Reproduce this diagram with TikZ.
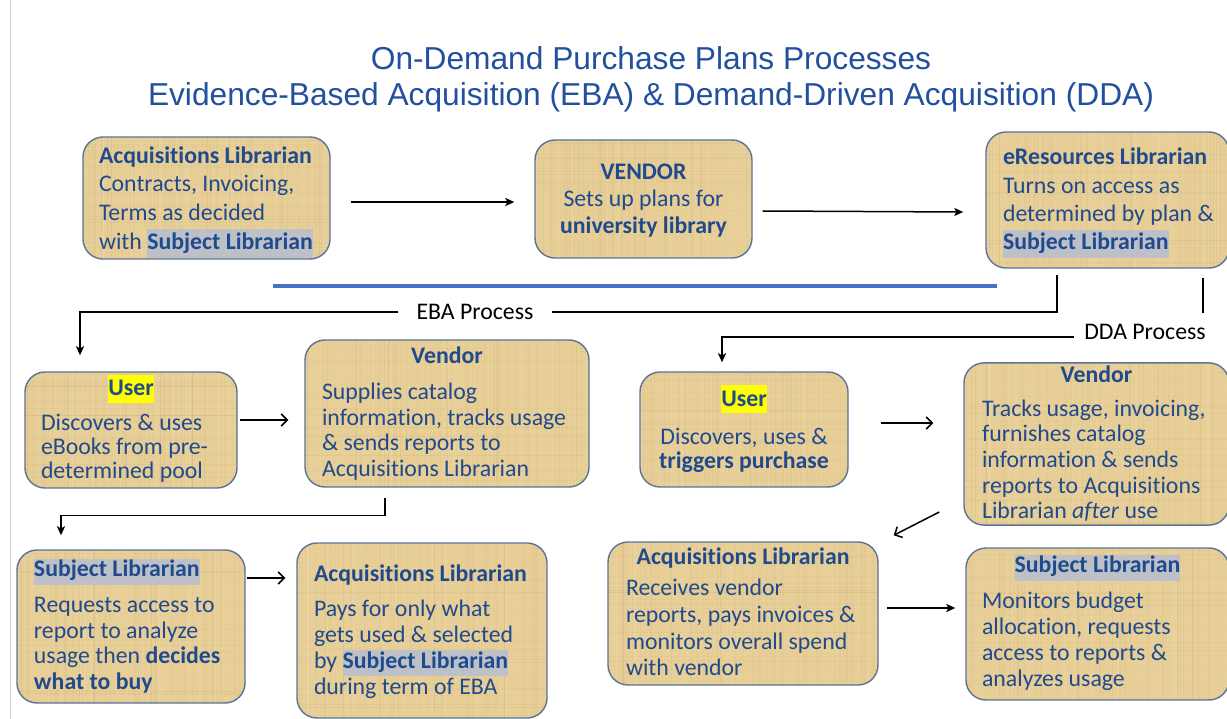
\documentclass[tikz,border=0pt]{standalone}
\usepackage{fontspec}
\setmainfont{Carlito}[Ligatures=NoCommon]
\newfontfamily\titlefont{Liberation Sans}
\usepackage{array}
\usetikzlibrary{arrows.meta,calc}

\definecolor{papyrus}{HTML}{E8CF98}
\definecolor{papgrain}{HTML}{A5834A}
\definecolor{papglow}{HTML}{F3E2B8}
\definecolor{boxline}{HTML}{5A7499}
\definecolor{txtblue}{HTML}{1F4A8E}
\definecolor{titleblue}{HTML}{22509E}
\definecolor{hlgray}{HTML}{BDC1C7}
\definecolor{hlyellow}{HTML}{FFFF00}
\definecolor{dividerblue}{HTML}{4472C4}

% highlighted words
\newcommand\hlg[1]{{\setlength\fboxsep{0pt}\colorbox{hlgray}{\strut#1}}}
\newcommand\hly[1]{{\setlength\fboxsep{0pt}\colorbox{hlyellow}{\rule[-7pt]{0pt}{28pt}#1}}}
% a row centred across the whole box
\newcommand\ctr[1]{\multicolumn{1}{@{}c@{}}{#1}}
% box text: #1 left inset, #2 box width, #3 downward shift, #4 line pitch, #5 rows
\newcommand\boxtext[5]{\raisebox{-#3}[\height][\depth]{\fontsize{23.8pt}{#4}\selectfont
  \begin{tabular}{@{\hspace{#1}}>{\raggedright\arraybackslash}p{\dimexpr#2-#1-2pt\relax}@{\hspace{2pt}}}#5\end{tabular}}}

% fibres of the papyrus fill
\newcommand\papyrusgrain{%
  \foreach \k in {1,...,70}{%
    \pgfmathsetmacro\fr{rnd}\pgfmathsetmacro\op{0.02+0.07*rnd}%
    \draw[papgrain, opacity=\op, line width=0.6pt]
      ($(path picture bounding box.south west)!\fr!(path picture bounding box.south east)$) --
      ($(path picture bounding box.north west)!\fr!(path picture bounding box.north east)$);}%
  \foreach \k in {1,...,30}{%
    \pgfmathsetmacro\fr{rnd}\pgfmathsetmacro\op{0.02+0.05*rnd}%
    \draw[papgrain, opacity=\op, line width=0.5pt]
      ($(path picture bounding box.south west)!\fr!(path picture bounding box.north west)$) --
      ($(path picture bounding box.south east)!\fr!(path picture bounding box.north east)$);}%
  \foreach \k in {1,...,25}{%
    \pgfmathsetmacro\fr{rnd}\pgfmathsetmacro\op{0.10+0.15*rnd}%
    \draw[papglow, opacity=\op, line width=1.2pt]
      ($(path picture bounding box.south west)!\fr!(path picture bounding box.south east)$) --
      ($(path picture bounding box.north west)!\fr!(path picture bounding box.north east)$);}%
}

\tikzset{
  pbox/.style={draw=boxline, line width=1.4pt, fill=papyrus, rounded corners=20pt,
    inner sep=0pt, text=txtblue, path picture={\papyrusgrain}},
  conn/.style={line width=1.5pt, draw=black},
  arrfill/.style={conn, -{Stealth[length=9pt, width=8pt, inset=2pt]}},
  arropen/.style={conn, -{Straight Barb[length=6pt, width=12pt]}},
  lbl/.style={font=\fontsize{23.8pt}{28pt}\selectfont, text=black, inner ysep=2pt},
  titlenode/.style={font=\titlefont\fontsize{31.7pt}{36pt}\selectfont, text=titleblue,
    align=center, inner sep=0pt},
}

\begin{document}
\begin{tikzpicture}[x=1pt, y=-1pt]
\pgfmathsetseed{12}
\fill[white] (0,0) rectangle (1227,719);
\useasboundingbox (0,0) rectangle (1227,719);
\draw[black!18, line width=1pt] (10,0) -- (10,719);

% title
\node[titlenode, anchor=north] (title) at (651,46)
  {On-Demand Purchase Plans Processes\\Evidence-Based Acquisition (EBA) \& Demand-Driven Acquisition (DDA)};

% top row
\node[pbox, minimum width=247, minimum height=122] (acqtop) at (206.5,198)
  {\boxtext{16pt}{247pt}{2.5pt}{28.7pt}{%
    \bfseries Acquisitions Librarian\\
    Contracts, Invoicing,\\
    Terms as decided\\
    with \hlg{\bfseries Subject Librarian}}};

\node[pbox, minimum width=217, minimum height=118] (vendtop) at (643.5,199)
  {\boxtext{0pt}{217pt}{2pt}{27pt}{%
    \ctr{\bfseries VENDOR}\\
    \ctr{Sets up plans for}\\
    \ctr{\bfseries university library}}};

\node[pbox, minimum width=243, minimum height=136] (eres) at (1107.5,200)
  {\boxtext{17pt}{243pt}{1.5pt}{28.3pt}{%
    \bfseries eResources Librarian\\
    Turns on access as\\
    determined by plan \&\\
    \hlg{\bfseries Subject Librarian}}};

% divider
\draw[dividerblue, line width=4.5pt] (273,286) -- (997,286);

% EBA branch
\node[pbox, minimum width=212, minimum height=116] (userE) at (131,430)
  {\boxtext{16pt}{212pt}{0pt}{23.5pt}{%
    \ctr{\bfseries\hly{User}}\\[11.5pt]
    Discovers \& uses\\
    eBooks from pre-\\
    determined pool}};

\node[pbox, minimum width=284, minimum height=147] (vendE) at (447,413.5)
  {\boxtext{17pt}{284pt}{1.5pt}{25.5pt}{%
    \ctr{\bfseries Vendor}\\[10.5pt]
    Supplies catalog\\
    information, tracks usage\\
    \& sends reports to\\
    Acquisitions Librarian}};

\node[pbox, minimum width=228, minimum height=153] (subjE) at (131,626.5)
  {\boxtext{17pt}{228pt}{1.5pt}{25.5pt}{%
    \hlg{\bfseries Subject Librarian}\\[10.5pt]
    Requests access to\\
    report to analyze\\
    usage then \textbf{decides}\\
    \textbf{what to buy}}};

\node[pbox, minimum width=250, minimum height=175] (acqE) at (422,630.5)
  {\boxtext{17pt}{250pt}{2pt}{26pt}{%
    \bfseries Acquisitions Librarian\\[9pt]
    Pays for only what\\
    gets used \& selected\\
    by \hlg{\bfseries Subject Librarian}\\
    during term of EBA}};

% DDA branch
\node[pbox, minimum width=208, minimum height=115] (userD) at (744,429.5)
  {\boxtext{0pt}{208pt}{1pt}{24pt}{%
    \ctr{\bfseries\hly{User}}\\[14pt]
    \ctr{Discovers, uses \&}\\
    \ctr{\bfseries triggers purchase}}};

\node[pbox, minimum width=265, minimum height=158] (vendD) at (1096.5,444)
  {\boxtext{18pt}{265pt}{1.5pt}{25.7pt}{%
    \ctr{\bfseries Vendor}\\[8pt]
    Tracks usage, invoicing,\\
    furnishes catalog\\
    information \& sends\\
    reports to Acquisitions\\
    Librarian \emph{after} use}};

\node[pbox, minimum width=270, minimum height=143] (acqD) at (743,613.5)
  {\boxtext{18pt}{270pt}{1.5pt}{26.7pt}{%
    \ctr{\bfseries Acquisitions Librarian}\\[4.3pt]
    Receives vendor\\
    reports, pays invoices \&\\
    monitors overall spend\\
    with vendor}};

\node[pbox, minimum width=263, minimum height=152] (subjD) at (1097.5,624)
  {\boxtext{16pt}{263pt}{0.5pt}{26pt}{%
    \ctr{\hlg{\bfseries Subject Librarian}}\\[10pt]
    Monitors budget\\
    allocation, requests\\
    access to reports \&\\
    analyzes usage}};

% process labels
\node[lbl, inner xsep=18pt] (ebalbl) at (475,312) {EBA Process};
\node[lbl, inner xsep=10pt] (ddalbl) at (1145,332) {DDA Process};

% connectors, top row
\draw[arrfill] ($(acqtop.east)+(20,4)$) -- ($(vendtop.west)+(-20,3)$);
\draw[arrfill] ($(vendtop.east)+(10,12)$) -- ($(eres.west)+(-22,12)$);

% EBA connectors
\draw[conn] ($(eres.south)+(-50.5,6)$) |- (ebalbl.east);
\draw[arrfill] (ebalbl.west) -| ($(userE.north)+(-51,-16)$);
\draw[arropen] ($(userE.east)+(2,-10)$) -- ($(vendE.west)+(-16,6.5)$);
\draw[arrfill] ($(vendE.south)+(-62,10)$) -- ++(0,18) -| ($(subjE.north)+(-70,-14)$);
\draw[arropen] ($(subjE.east)+(1,-48.5)$) -- ($(acqE.west)+(-11,-52.5)$);

% DDA connectors
\draw[conn] ($(eres.south)+(95.5,9)$) -- ++(0,35);
\draw[arrfill] ($(ddalbl.west)+(0,5)$) -| ($(userD.north)+(-22,-9)$);
\draw[arropen] ($(userD.east)+(32,-6.5)$) -- ($(vendD.west)+(-30,-21)$);
\draw[arropen] ($(vendD.west)+(-24,68)$) -- ($(acqD.north east)+(15,-6)$);
\draw[arrfill] ($(acqD.east)+(8,-5.5)$) -- ($(subjD.west)+(-10,-16)$);
\end{tikzpicture}
\end{document}
